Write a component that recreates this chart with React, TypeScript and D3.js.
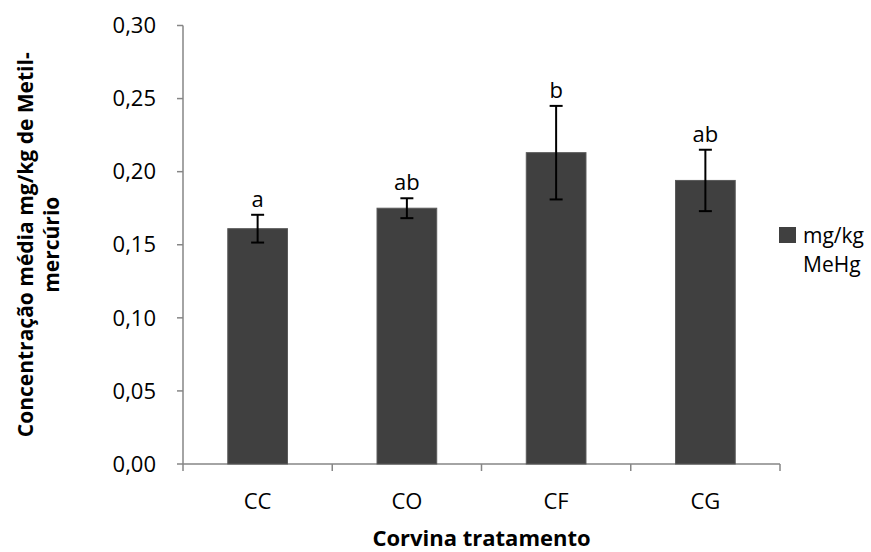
import React from "react";
import * as d3 from "d3";

const categories = ["CC", "CO", "CF", "CG"];
const means = [0.161, 0.175, 0.213, 0.194];
const errors = [0.0095, 0.0068, 0.032, 0.021];
const letters = ["a", "ab", "b", "ab"];
const yTicks = [0, 0.05, 0.1, 0.15, 0.2, 0.25, 0.3];
const legendLines = ["mg/kg", "MeHg"];

const W = 871;
const H = 552;
const FONT = "'Open Sans', sans-serif";

export default function App() {
  const left = 183;
  const right = 780;
  const top = 25.5;
  const bottom = 464;

  const x = d3.scaleBand<string>().domain(categories).range([left, right]).paddingInner(0.6).paddingOuter(0.3);
  const xOuter = d3.scaleBand<string>().domain(categories).range([left, right]);
  const y = d3.scaleLinear().domain([0, 0.3]).range([bottom, top]);
  const fmt = (v: number) => v.toFixed(2).replace(".", ",");
  const axisColor = "#868686";

  return (
    <svg width={W} height={H} style={{ position: "absolute", left: 0, top: 0, background: "#fff" }}>
      {/* y axis */}
      <line x1={left} x2={left} y1={top} y2={bottom} stroke={axisColor} strokeWidth={1.5} />
      {yTicks.map((t) => (
        <g key={t}>
          <line x1={left - 6} x2={left} y1={y(t)} y2={y(t)} stroke={axisColor} strokeWidth={1.5} />
          <text x={left - 27} y={y(t)} dy="0.35em" textAnchor="end" fontFamily={FONT} fontSize={22} fill="#000">
            {fmt(t)}
          </text>
        </g>
      ))}
      {/* x axis */}
      <line x1={left} x2={right} y1={bottom} y2={bottom} stroke={axisColor} strokeWidth={1.5} />
      {[...categories.map((c) => xOuter(c) as number), right].map((px, i) => (
        <line key={i} x1={px} x2={px} y1={bottom} y2={bottom + 7} stroke={axisColor} strokeWidth={1.5} />
      ))}
      {categories.map((c) => (
        <text key={c} x={(xOuter(c) as number) + xOuter.bandwidth() / 2} y={509} textAnchor="middle" fontFamily={FONT} fontSize={22} fill="#000">
          {c}
        </text>
      ))}
      {/* bars */}
      {categories.map((c, i) => (
        <rect key={c} x={x(c)} y={y(means[i])} width={x.bandwidth()} height={bottom - y(means[i])} fill="#404040" stroke="#595959" strokeWidth={1} />
      ))}
      {/* error bars */}
      {categories.map((c, i) => {
        const cx = (x(c) as number) + x.bandwidth() / 2;
        const y1 = y(means[i] + errors[i]);
        const y2 = y(means[i] - errors[i]);
        return (
          <g key={c} stroke="#000" strokeWidth={2}>
            <line x1={cx} x2={cx} y1={y1} y2={y2} />
            <line x1={cx - 6.5} x2={cx + 6.5} y1={y1} y2={y1} />
            <line x1={cx - 6.5} x2={cx + 6.5} y1={y2} y2={y2} />
          </g>
        );
      })}
      {/* letters */}
      {categories.map((c, i) => (
        <text key={c} x={(x(c) as number) + x.bandwidth() / 2} y={y(means[i] + errors[i]) - 8} textAnchor="middle" fontFamily={FONT} fontSize={22} fill="#000">
          {letters[i]}
        </text>
      ))}
      {/* axis titles */}
      <text x={(left + right) / 2} y={546} textAnchor="middle" fontFamily={FONT} fontWeight="bold" fontSize={22} fill="#000">
        Corvina tratamento
      </text>
      <g transform={`translate(0, ${(top + bottom) / 2}) rotate(-90)`}>
        <text x={0} y={33} textAnchor="middle" fontFamily={FONT} fontWeight="bold" fontSize={21} fill="#000">
          Concentração média mg/kg de Metil-
        </text>
        <text x={0} y={59} textAnchor="middle" fontFamily={FONT} fontWeight="bold" fontSize={21} fill="#000">
          mercúrio
        </text>
      </g>
      {/* legend */}
      <rect x={779} y={227} width={17} height={16} fill="#404040" />
      {legendLines.map((t, i) => (
        <text key={t} x={803} y={243 + i * 29} fontFamily={FONT} fontSize={21} fill="#000">
          {t}
        </text>
      ))}
    </svg>
  );
}
